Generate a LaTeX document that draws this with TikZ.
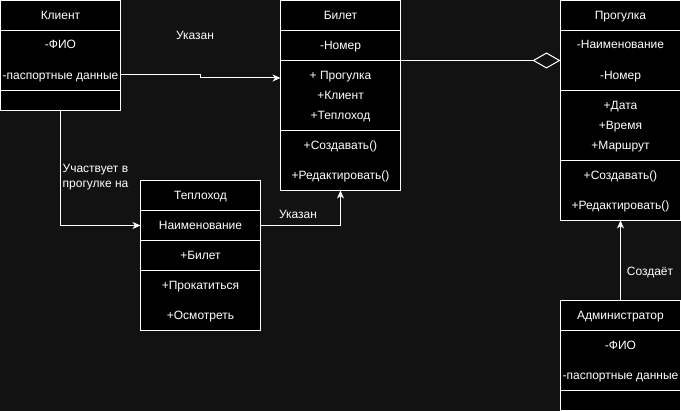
\documentclass[tikz,border=0pt]{standalone}
\usepackage{fontspec}
\setmainfont{Liberation Sans}
\usetikzlibrary{arrows.meta}
\definecolor{bg}{RGB}{18,18,18}
\begin{document}
\begin{tikzpicture}[x=1pt,y=-1pt,
  comp/.style={draw=white, fill=black, line width=1pt, minimum width=120pt, inner sep=0pt, outer sep=0pt, anchor=north west},
  txt/.style={text=white, font=\fontsize{12}{14}\selectfont, inner sep=0pt, text height=8.6pt, text depth=0pt},
  conn/.style={draw=white, line width=1pt},
  arr/.style={conn, -{Stealth[length=8pt, width=7pt, inset=2.5pt]}}
]
\path[use as bounding box, fill=bg] (0,0) rectangle (681,411);

% Клиент
\node[comp, minimum height=30pt] (kh) at (0.5,0.5) {};
\node[comp, minimum height=60pt] (ka) at (0.5,30.5) {};
\node[comp, minimum height=20pt] (km) at (0.5,90.5) {};
\node[txt] (k1) at (60.5,15) {Клиент};
\node[txt] (k2) at (60.5,44) {-ФИО};
\node[txt] (k3) at (60.5,75) {-паспортные данные};

% Билет
\node[comp, minimum height=30pt] (bh) at (280.5,0.5) {};
\node[comp, minimum height=30pt] (bn) at (280.5,30.5) {};
\node[comp, minimum height=70pt] (ba) at (280.5,60.5) {};
\node[comp, minimum height=60pt] (bm) at (280.5,130.5) {};
\node[txt] (b1) at (340.5,15) {Билет};
\node[txt] (b2) at (340.5,45) {-Номер};
\node[txt] (b3) at (340.5,75) {+ Прогулка};
\node[txt] (b4) at (340.5,95) {+Клиент};
\node[txt] (b5) at (340.5,115) {+Теплоход};
\node[txt] (b6) at (340.5,145) {+Создавать()};
\node[txt] (b7) at (340.5,175) {+Редактировать()};

% Прогулка
\node[comp, minimum height=30pt] (ph) at (560.5,0.5) {};
\node[comp, minimum height=60pt] (pa) at (560.5,30.5) {};
\node[comp, minimum height=70pt] (pb) at (560.5,90.5) {};
\node[comp, minimum height=60pt] (pm) at (560.5,160.5) {};
\node[txt] (p1) at (620.5,15) {Прогулка};
\node[txt] (p2) at (620.5,44) {-Наименование};
\node[txt] (p3) at (620.5,75) {-Номер};
\node[txt] (p4) at (620.5,105) {+Дата};
\node[txt] (p5) at (620.5,125) {+Время};
\node[txt] (p6) at (620.5,145) {+Маршрут};
\node[txt] (p7) at (620.5,175) {+Создавать()};
\node[txt] (p8) at (620.5,205) {+Редактировать()};

% Теплоход
\node[comp, minimum height=30pt] (th) at (140.5,180.5) {};
\node[comp, minimum height=30pt] (tn) at (140.5,210.5) {};
\node[comp, minimum height=30pt] (tb) at (140.5,240.5) {};
\node[comp, minimum height=60pt] (tm) at (140.5,270.5) {};
\node[txt] (t1) at (200.5,195) {Теплоход};
\node[txt] (t2) at (200.5,225) {Наименование};
\node[txt] (t3) at (200.5,255) {+Билет};
\node[txt] (t4) at (200.5,285) {+Прокатиться};
\node[txt] (t5) at (200.5,315) {+Осмотреть};

% Администратор
\node[comp, minimum height=30pt] (ah) at (560.5,300.5) {};
\node[comp, minimum height=60pt] (aa) at (560.5,330.5) {};
\node[comp, minimum height=20pt] (am) at (560.5,390.5) {};
\node[txt] (a1) at (620.5,315) {Администратор};
\node[txt] (a2) at (620.5,345) {-ФИО};
\node[txt] (a3) at (620.5,375) {-паспортные данные};

% connectors
\draw[arr] (ka.east |- 0,75) -- (200,75) -- (200,78) -- (ba.west |- 0,78);
\draw[conn, -{Diamond[open, length=28pt, width=16pt]}] (ba.north east) -- (pa.west |- ba.north east);
\draw[arr] (km.south) -- (km.south |- tn.west) -- (tn.west);
\draw[arr] (tn.east) -| (bm.south -| 340.5,0);
\draw[arr] (ah.north) -- (pm.south);

% labels
\node[txt] (l1) at (195,35) {Указан};
\node[txt, anchor=west] (l2a) at (62.5,168) {Участвует в};
\node[txt, anchor=west] (l2b) at (62.5,183) {прогулке на};
\node[txt] (l3) at (298,214) {Указан};
\node[txt] (l4) at (650,271) {Создаёт};
\end{tikzpicture}
\end{document}
